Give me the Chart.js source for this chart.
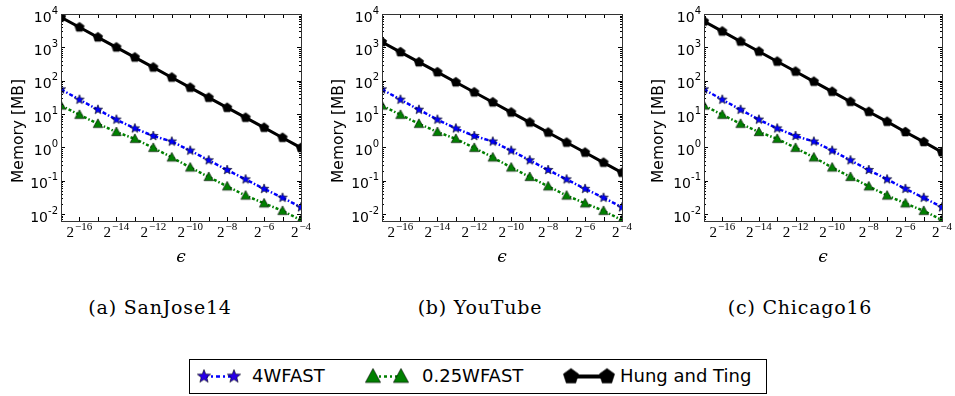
<!DOCTYPE html>
<html>
<head>
<meta charset="utf-8">
<script src="https://cdn.jsdelivr.net/npm/chart.js"></script>
<style>
body { margin: 0; width: 955px; height: 396px; background: #fff; position: relative; overflow: hidden; }
.panel { position: absolute; top: 0; width: 320px; height: 280px; }
.cap { position: absolute; top: 296px; width: 320px; text-align: center; font-family: 'DejaVu Serif'; font-size: 19px; letter-spacing: 0.8px; color: #000; }
#legend { position: absolute; left: 189px; top: 359px; width: 576px; height: 33px; border: 1px solid #000; }
#legend span { position: absolute; top: 5px; font-family: 'DejaVu Sans'; font-size: 18px; color: #000; }
#legend canvas { position: absolute; top: 0; }
</style>
</head>
<body>
<canvas class="panel" id="c1" width="320" height="280" style="left:0px"></canvas>
<canvas class="panel" id="c2" width="320" height="280" style="left:320px"></canvas>
<canvas class="panel" id="c3" width="320" height="280" style="left:640px"></canvas>
<div class="cap" style="left:0px">(a) SanJose14</div>
<div class="cap" style="left:320px">(b) YouTube</div>
<div class="cap" style="left:640px">(c) Chicago16</div>
<div id="legend">
  <canvas id="lg1" width="50" height="33" style="left:4px"></canvas>
  <span style="left:62px">4WFAST</span>
  <canvas id="lg2" width="50" height="33" style="left:172px"></canvas>
  <span style="left:232px">0.25WFAST</span>
  <canvas id="lg3" width="56" height="33" style="left:370px"></canvas>
  <span style="left:430px">Hung and Ting</span>
</div>
<script>
// epsilon = 2^e
var epsExp = [-17, -16, -15, -14, -13, -12, -11, -10, -9, -8, -7, -6, -5, -4];
var xTickLabelExp = [-16, -14, -12, -10, -8, -6, -4];
var yTickLabelExp = [-2, -1, 0, 1, 2, 3, 4];

// memory in MB
var wfast4 = [55, 27, 13.5, 6.8, 3.7, 2.2, 1.5, 0.8, 0.41, 0.21, 0.11, 0.057, 0.031, 0.016];
var wfast025 = [18, 9.5, 5.1, 2.9, 1.8, 0.97, 0.5, 0.25, 0.13, 0.068, 0.036, 0.021, 0.0125, 0.0066];
var hungSanJose = [8000, 4000, 2000, 1000, 500, 250, 125, 62, 31, 15.5, 7.8, 3.9, 1.95, 0.97];
var hungYouTube = [1450, 720, 360, 180, 90, 45, 22.5, 11.2, 5.6, 2.8, 1.4, 0.7, 0.35, 0.175];
var hungChicago = [6000, 3000, 1500, 750, 375, 188, 94, 47, 23.4, 11.7, 5.9, 2.9, 1.46, 0.72];

var seriesNames = ['4WFAST', '0.25WFAST', 'Hung and Ting'];

function shapePath(ctx, shape, cx, cy, r) {
    ctx.beginPath();
    if (shape === 'star') {
        for (var i = 0; i < 10; i++) {
            var rr = i % 2 === 0 ? r : r * 0.42;
            var a = -Math.PI / 2 + i * Math.PI / 5;
            ctx.lineTo(cx + rr * Math.cos(a), cy + rr * Math.sin(a));
        }
    } else if (shape === 'tri') {
        ctx.moveTo(cx, cy - r);
        ctx.lineTo(cx + r * 0.95, cy + r * 0.75);
        ctx.lineTo(cx - r * 0.95, cy + r * 0.75);
    } else {
        for (var j = 0; j < 5; j++) {
            var b = -Math.PI / 2 + j * 2 * Math.PI / 5;
            ctx.lineTo(cx + r * Math.cos(b), cy + r * Math.sin(b));
        }
    }
    ctx.closePath();
}

function makeMarker(shape, fill, r) {
    var c = document.createElement('canvas');
    var s = Math.ceil(r * 2 + 4);
    c.width = s; c.height = s;
    var ctx = c.getContext('2d');
    shapePath(ctx, shape, s / 2, s / 2, r);
    ctx.fillStyle = fill;
    ctx.fill();
    ctx.lineWidth = 0.6;
    ctx.strokeStyle = '#000';
    ctx.stroke();
    return c;
}

var starImg = makeMarker('star', '#0000ff', 5);
var triImg = makeMarker('tri', '#008000', 5);
var pentImg = makeMarker('pent', '#000000', 5);

function pts(arr) {
    return epsExp.map(function (e, i) { return { x: Math.pow(2, e), y: arr[i] }; });
}

var mplAxes = {
    id: 'mplAxes',
    afterDraw: function (chart) {
        var ctx = chart.ctx, a = chart.chartArea;
        var xs = chart.scales.x, ys = chart.scales.y;
        ctx.save();
        ctx.strokeStyle = '#000';
        ctx.lineWidth = 1;
        // ticks pointing inward
        ctx.beginPath();
        for (var d = -3; d <= 4; d++) {
            for (var m = 1; m <= 9; m++) {
                var v = m * Math.pow(10, d);
                if (v < ys.min || v > ys.max) continue;
                var y = Math.round(ys.getPixelForValue(v)) + 0.5;
                var len = m === 1 ? 4 : 2;
                ctx.moveTo(a.left, y); ctx.lineTo(a.left + len, y);
                ctx.moveTo(a.right, y); ctx.lineTo(a.right - len, y);
            }
        }
        epsExp.forEach(function (e) {
            var x = Math.round(xs.getPixelForValue(Math.pow(2, e))) + 0.5;
            ctx.moveTo(x, a.bottom); ctx.lineTo(x, a.bottom - 4);
            ctx.moveTo(x, a.top); ctx.lineTo(x, a.top + 4);
        });
        ctx.stroke();
        ctx.strokeStyle = '#333';
        ctx.strokeRect(Math.round(a.left) + 0.5, Math.round(a.top) + 0.5,
            Math.round(a.right - a.left), Math.round(a.bottom - a.top));

        // y tick labels 10^k
        ctx.fillStyle = '#000';
        ctx.textBaseline = 'middle';
        ctx.textAlign = 'left';
        yTickLabelExp.forEach(function (k) {
            var y = ys.getPixelForValue(Math.pow(10, k));
            var sup = String(k);
            ctx.font = '10px "DejaVu Sans"';
            var sw = ctx.measureText(sup).width;
            ctx.font = '14px "DejaVu Sans"';
            var bw = ctx.measureText('10').width;
            var x0 = a.left - 3 - sw - bw;
            ctx.fillText('10', x0, y + 4);
            ctx.font = '10px "DejaVu Sans"';
            ctx.fillText(sup, x0 + bw, y - 3);
        });

        // x tick labels 2^k
        xTickLabelExp.forEach(function (k) {
            var x = xs.getPixelForValue(Math.pow(2, k));
            var sup = '\u2212' + String(-k);
            ctx.font = '11px "Liberation Serif"';
            var sw = ctx.measureText(sup).width;
            ctx.font = '15px "Liberation Serif"';
            var bw = ctx.measureText('2').width;
            var x0 = x - (sw + bw + 1) / 2;
            ctx.fillText('2', x0, a.bottom + 12);
            ctx.font = '11px "Liberation Serif"';
            ctx.fillText(sup, x0 + bw + 1, a.bottom + 6);
        });

        // axis titles
        ctx.textAlign = 'center';
        ctx.font = 'italic 17px "DejaVu Serif"';
        ctx.fillText('\u03f5', (a.left + a.right) / 2, 258);
        ctx.translate(19, 131);
        ctx.rotate(-Math.PI / 2);
        ctx.font = '15.5px "DejaVu Sans"';
        ctx.fillText('Memory [MB]', 0, 0);
        ctx.restore();
    }
};

function makeChart(id, hung, left, right) {
    return new Chart(document.getElementById(id).getContext('2d'), {
        type: 'line',
        data: {
            datasets: [{
                label: seriesNames[0], data: pts(wfast4),
                borderColor: '#0000ff', borderWidth: 2.5, borderDash: [4, 2, 1.5, 2],
                pointStyle: starImg, pointRadius: 5, clip: 0
            }, {
                label: seriesNames[1], data: pts(wfast025),
                borderColor: '#008000', borderWidth: 2.5, borderDash: [3, 2, 1.5, 2],
                pointStyle: triImg, pointRadius: 5, clip: 0
            }, {
                label: seriesNames[2], data: pts(hung),
                borderColor: '#000000', borderWidth: 3,
                pointStyle: pentImg, pointRadius: 5, clip: 0
            }]
        },
        options: {
            responsive: false,
            animation: false,
            events: [],
            layout: { padding: { top: 14, right: 320 - right, left: 0, bottom: 0 } },
            plugins: { legend: { display: false }, tooltip: { enabled: false } },
            elements: { line: { tension: 0, fill: false } },
            scales: {
                x: {
                    type: 'logarithmic', min: Math.pow(2, -17), max: Math.pow(2, -4),
                    grid: { display: false }, border: { display: false }, ticks: { display: false },
                    afterFit: function (s) { s.height = 280 - 221; }
                },
                y: {
                    type: 'logarithmic', min: 0.0062, max: 10000,
                    grid: { display: false }, border: { display: false }, ticks: { display: false },
                    afterFit: function (s) { s.width = left; }
                }
            }
        },
        plugins: [mplAxes]
    });
}

makeChart('c1', hungSanJose, 61, 301);
makeChart('c2', hungYouTube, 62, 302);
makeChart('c3', hungChicago, 64, 302);

// legend symbols
function legendSymbol(id, color, width, dash, img, x1, x2) {
    var c = document.getElementById(id), ctx = c.getContext('2d');
    ctx.strokeStyle = color; ctx.lineWidth = width; ctx.setLineDash(dash);
    ctx.beginPath(); ctx.moveTo(x1, 16.5); ctx.lineTo(x2, 16.5); ctx.stroke();
    ctx.setLineDash([]);
    [x1, x2].forEach(function (x) {
        ctx.drawImage(img, x - img.width / 2, 16.5 - img.height / 2);
    });
}
var starBig = makeMarker('star', '#2a00e8', 7);
var triBig = makeMarker('tri', '#008000', 8);
var pentBig = makeMarker('pent', '#000000', 8);
legendSymbol('lg1', '#0000ff', 2.5, [4, 3, 2, 3], starBig, 10, 40);
legendSymbol('lg2', '#008000', 2.5, [3, 3, 2, 3], triBig, 11, 39);
legendSymbol('lg3', '#000000', 4, [], pentBig, 11, 47);
</script>
</body>
</html>
